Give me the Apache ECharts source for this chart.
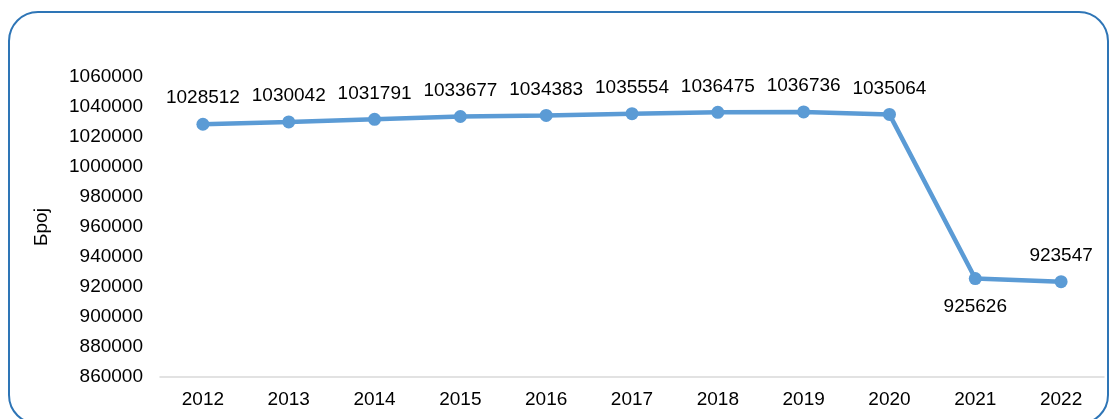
<!DOCTYPE html>
<html><head><meta charset="utf-8">
<script src="https://cdn.jsdelivr.net/npm/echarts@6/dist/echarts.min.js"></script>
<style>
html,body{margin:0;padding:0;background:#fff;overflow:hidden}
#frame{position:absolute;left:8px;top:11px;width:1101px;height:414px;border:2px solid #2e75b6;border-radius:30px;box-sizing:border-box}
#chart{position:absolute;left:0;top:0;width:1112px;height:419px}
</style></head><body>
<div id="frame"></div>
<div id="chart"></div>
<script>
const categories = ['2012','2013','2014','2015','2016','2017','2018','2019','2020','2021','2022'];
const values = [1028512,1030042,1031791,1033677,1034383,1035554,1036475,1036736,1035064,925626,923547];
const yAxisName = 'Број';

const chart = echarts.init(document.getElementById('chart'));
const font = 'Liberation Sans, Arial, sans-serif';
const fs = 19;
chart.setOption({
  animation:false,
  grid:{left:160,right:8,top:77,bottom:42},
  xAxis:{type:'category',data:categories,boundaryGap:true,
    axisLine:{lineStyle:{color:'#d9d9d9',width:1.5}},axisTick:{show:false},
    axisLabel:{color:'#000',fontSize:fs,fontFamily:font,margin:13}},
  yAxis:{type:'value',min:860000,max:1060000,interval:20000,
    name:yAxisName,nameLocation:'middle',nameGap:109,nameRotate:90,
    nameTextStyle:{color:'#000',fontSize:fs,fontFamily:font},
    axisLine:{show:false},axisTick:{show:false},splitLine:{show:false},
    axisLabel:{color:'#000',fontSize:fs,fontFamily:font,margin:17,formatter:v=>String(v)}},
  series:[{type:'line',data:values.map((v,i)=>({value:v,label:{position:i===9?'bottom':'top',distance:i===9?12:10}})),
    lineStyle:{color:'#5b9bd5',width:4.5},itemStyle:{color:'#5b9bd5'},
    symbol:'circle',symbolSize:13,
    label:{show:true,color:'#000',fontSize:fs,fontFamily:font}}]
});
</script>
</body></html>
